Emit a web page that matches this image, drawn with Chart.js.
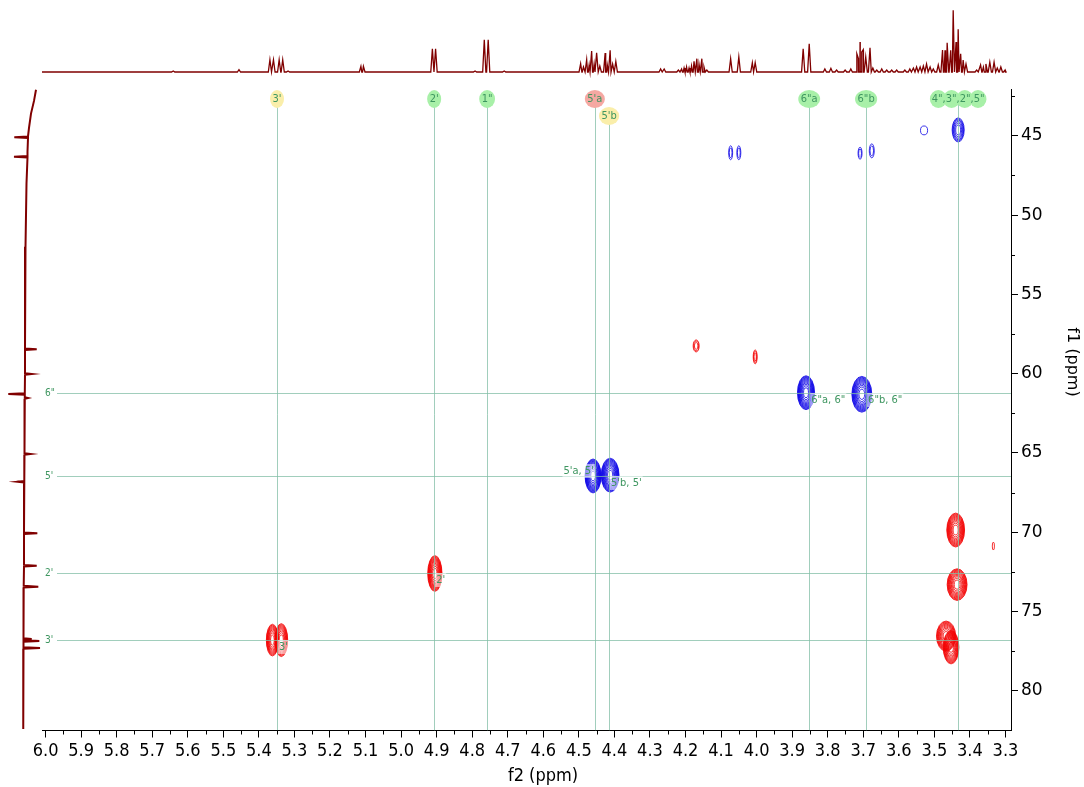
<!DOCTYPE html>
<html>
<head>
<meta charset="utf-8">
<script src="https://cdn.jsdelivr.net/npm/chart.js@4.4.1/dist/chart.umd.min.js"></script>
<style>
  body { margin: 0; background: #fff; }
  #wrap { position: relative; width: 1084px; height: 787px; }
  #wrap canvas { position: absolute; left: 0; top: 0; }
</style>
</head>
<body>
<div id="wrap">
  <canvas id="hsqc" width="1084" height="787"></canvas>
  <canvas id="proton" width="1084" height="90"></canvas>
  <canvas id="carbon" width="44" height="787"></canvas>
</div>
<script>
// axis ranges (ppm)
const F2_MIN = 3.2844, F2_MAX = 6.0101;
const F1_MIN = 42.1, F1_MAX = 82.5;

// HSQC cross peaks: f2 (1H), f1 (13C), half widths in ppm, phase (+1 CH / -1 CH2), contour levels
const peakF2    = [3.433, 3.529, 4.073, 4.050, 3.709, 3.676, 3.861, 3.704, 4.460, 4.412,
                   5.362, 5.337, 4.905, 3.440, 3.436, 3.467, 3.453, 3.334, 4.170, 4.004];
const peakF1    = [44.63, 44.66, 46.07, 46.07, 46.10, 45.95, 61.20, 61.30, 66.45, 66.40,
                   76.80, 76.80, 72.60, 69.86, 73.30, 76.55, 77.25, 70.87, 58.25, 58.94];
const peakHalfF2 = [0.017, 0.010, 0.0056, 0.0056, 0.0056, 0.007, 0.024, 0.028, 0.0225, 0.025,
                    0.017, 0.018, 0.020, 0.025, 0.028, 0.027, 0.022, 0.003, 0.0085, 0.0056];
const peakHalfF1 = [0.76, 0.28, 0.44, 0.44, 0.38, 0.44, 1.07, 1.13, 1.07, 1.07,
                    1.00, 1.04, 1.13, 1.07, 1.00, 0.95, 1.05, 0.25, 0.38, 0.44];
const peakPhase  = [-1, -1, -1, -1, -1, -1, -1, -1, -1, -1,
                     1, 1, 1, 1, 1, 1, 1, 1, 1, 1];
const peakLevels = [6, 1, 2, 2, 2, 2, 12, 12, 12, 12,
                    10, 10, 12, 12, 12, 11, 11, 1, 3, 3];

// 1H projection: line positions (ppm) and heights
const protonPpm = [5.641, 5.456, 5.369, 5.359, 5.343, 5.333, 5.318, 5.113, 5.106, 4.912, 4.903,
  4.792, 4.766, 4.755, 4.710, 4.495, 4.487, 4.478, 4.471, 4.464, 4.457, 4.450, 4.441, 4.426,
  4.420, 4.412, 4.405, 4.396, 4.270, 4.260, 4.220, 4.211, 4.204, 4.197, 4.190, 4.183, 4.176,
  4.168, 4.162, 4.154, 4.148, 4.140, 4.073, 4.050, 4.012, 4.004, 3.869, 3.852, 3.808, 3.791,
  3.775, 3.751, 3.735, 3.718, 3.714, 3.709, 3.704, 3.700, 3.693, 3.681, 3.673, 3.662, 3.648,
  3.634, 3.620, 3.606, 3.583, 3.569, 3.559, 3.550, 3.540, 3.531, 3.522, 3.512, 3.503, 3.489,
  3.477, 3.470, 3.464, 3.454, 3.447, 3.439, 3.433, 3.426, 3.419, 3.411, 3.381, 3.370, 3.362,
  3.355, 3.344, 3.332, 3.323, 3.313, 3.301];
const protonHeight = [1, 2.3, 12.3, 12.3, 12.3, 12.3, 1, 5.7, 5.7, 23.3, 23.3,
  1, 32.3, 32.3, 1, 8.3, 5, 12.3, 7, 21, 8, 19.3, 6, 19,
  7, 21.7, 8, 10.7, 3, 3, 2, 3, 4, 5, 4, 6, 10.7,
  13.3, 8, 13.3, 5, 2, 13.3, 15, 9.3, 9.3, 23.3, 28.3, 3, 3.7,
  2, 2, 3, 18.3, 14, 30, 20, 22.3, 15, 24.3, 4, 2, 3,
  2, 2, 2, 2, 3, 4, 5, 5, 6, 8, 5, 3, 7,
  22, 21.7, 29.3, 21.7, 61.7, 30, 42.7, 18.3, 12, 8, 2, 7, 5,
  8, 10, 10, 4, 5, 2];

// 13C projection: drifting baseline [f1, intensity] and lines [f1, local base, tip]
const carbonBaseline = [[42.1, 12], [42.8, 10], [43.6, 7], [44.5, 5], [46, 3.5], [48, 2.5],
  [52, 1.5], [58, 1], [65, 0.5], [72, 0], [78, -0.5], [82.4, -1]];
const carbonLines = [[45.09, 4, -9.7], [46.32, 3.5, -10], [58.46, 1, 12.7], [60.02, 1, 8],
  [61.28, 0.8, -15.7], [61.53, 0.8, 4], [65.06, 0.5, 6.7], [66.81, 0.3, -6.7], [70.06, 0, 13.3],
  [72.11, 0, 12.7], [73.43, -0.3, 14.3], [76.73, -0.5, 7.7], [76.85, -0.5, 15.3], [77.30, -0.5, 16]];

// assignments
const protonLabels = ["3'", "2'", '1"', "5'a", "5'b", '6"a', '6"b', '4",3",2",5"'];
const protonShifts = [5.349, 4.907, 4.758, 4.455, 4.415, 3.852, 3.692, 3.433];
const carbonLabels = ['6"', "5'", "2'", "3'"];
const carbonShifts = [61.22, 66.45, 72.57, 76.79];
const crossLabels = ["5'a, 5'", "5'b, 5'", '6"a, 6"', '6"b, 6"', "2'", "3'"];
const crossF2 = [4.455, 4.415, 3.852, 3.692, 4.907, 5.349];
const crossF1 = [66.45, 66.45, 61.22, 61.22, 72.57, 76.79];

const NARROW = "'DejaVu Sans Condensed', 'Liberation Sans Narrow', 'DejaVu Sans', sans-serif";
const GREEN_TEXT = 'rgb(62,150,96)';
const LINE_COLOR = 'rgba(130,190,165,0.75)';
const bubbleFill = {
  "3'": 'rgb(250,238,170)', "5'b": 'rgb(250,238,170)', "5'a": 'rgb(245,168,162)'
};

const contourPlugin = {
  id: 'contours',
  afterDatasetsDraw(chart) {
    const { ctx, chartArea: a, scales: { x, y } } = chart;
    ctx.save();
    ctx.beginPath();
    ctx.rect(a.left, a.top, a.right - a.left, a.bottom - a.top);
    ctx.clip();
    ctx.lineWidth = 0.8;
    peakF2.forEach((f2, i) => {
      const cx = x.getPixelForValue(f2);
      const cy = y.getPixelForValue(peakF1[i]);
      const rx = Math.abs(x.getPixelForValue(f2 + peakHalfF2[i]) - cx);
      const ry = Math.abs(y.getPixelForValue(peakF1[i] + peakHalfF1[i]) - cy);
      const n = peakLevels[i];
      ctx.strokeStyle = peakPhase[i] > 0 ? '#f20000' : '#0a00e6';
      for (let k = 0; k < n; k++) {
        const s = Math.sqrt(1 - k / n);
        ctx.beginPath();
        ctx.ellipse(cx, cy, rx * s, ry * s, 0, 0, Math.PI * 2);
        ctx.stroke();
      }
    });

    // assignment lines
    ctx.strokeStyle = LINE_COLOR;
    ctx.lineWidth = 1;
    protonShifts.forEach((p, i) => {
      const px = Math.round(x.getPixelForValue(p)) + 0.5;
      const top = protonLabels[i] === "5'b" ? 116 : 99;
      ctx.beginPath();
      ctx.moveTo(px, top);
      ctx.lineTo(px, a.bottom);
      ctx.stroke();
    });
    ctx.font = '10px ' + NARROW;
    ctx.textBaseline = 'middle';
    carbonShifts.forEach((c, i) => {
      const py = Math.round(y.getPixelForValue(c)) + 0.5;
      ctx.strokeStyle = LINE_COLOR;
      ctx.beginPath();
      ctx.moveTo(a.left + 15, py);
      ctx.lineTo(a.right, py);
      ctx.stroke();
      ctx.fillStyle = GREEN_TEXT;
      ctx.textAlign = 'left';
      ctx.fillText(carbonLabels[i], a.left + 3, py);
    });

    // cross peak labels with a pale box behind
    ctx.font = '11px ' + NARROW;
    crossLabels.forEach((t, i) => {
      const px = x.getPixelForValue(crossF2[i]);
      const py = y.getPixelForValue(crossF1[i]);
      const w = ctx.measureText(t).width;
      const left = i === 0 ? px - w - 1 : px + 2;
      const cy = i === 0 ? py - 5 : py + 7;
      ctx.fillStyle = 'rgba(255,255,255,0.55)';
      ctx.fillRect(left - 1, cy - 7, w + 2, 14);
      ctx.fillStyle = GREEN_TEXT;
      ctx.textAlign = 'left';
      ctx.fillText(t, left, cy);
    });
    ctx.restore();

    // bubbles on top of the proton lines
    ctx.save();
    ctx.font = '11px ' + NARROW;
    ctx.textAlign = 'center';
    ctx.textBaseline = 'middle';
    protonLabels.forEach((t, i) => {
      const px = x.getPixelForValue(protonShifts[i]);
      const cy = t === "5'b" ? 116 : 99;
      const parts = t.split(',');
      const tw = ctx.measureText(t).width;
      ctx.fillStyle = bubbleFill[t] || 'rgb(168,240,168)';
      if (parts.length > 1) {
        const step = tw / parts.length;
        parts.forEach((_, k) => {
          ctx.beginPath();
          ctx.ellipse(px - tw / 2 + step * (k + 0.5), cy, 8.5, 9, 0, 0, Math.PI * 2);
          ctx.fill();
        });
      } else {
        ctx.beginPath();
        ctx.ellipse(px, cy, Math.max(tw / 2 + 2.5, 6.5), 9, 0, 0, Math.PI * 2);
        ctx.fill();
      }
      ctx.fillStyle = GREEN_TEXT;
      ctx.fillText(t, px, cy + 0.5);
    });
    ctx.restore();
  },
  afterDraw(chart) {
    const { ctx, chartArea: a, scales: { x, y } } = chart;
    ctx.save();
    ctx.strokeStyle = '#000';
    ctx.lineWidth = 1;
    // minor ticks
    for (let v = 3.35; v < 6.0; v += 0.1) {
      const px = Math.round(x.getPixelForValue(v)) + 0.5;
      ctx.beginPath();
      ctx.moveTo(px, a.bottom);
      ctx.lineTo(px, a.bottom + 4);
      ctx.stroke();
    }
    for (let v = 42.5; v < F1_MAX; v += 5) {
      const py = Math.round(y.getPixelForValue(v)) + 0.5;
      ctx.beginPath();
      ctx.moveTo(a.right, py);
      ctx.lineTo(a.right + 4, py);
      ctx.stroke();
    }
    // axis titles
    ctx.fillStyle = '#000';
    ctx.textAlign = 'center';
    ctx.textBaseline = 'middle';
    ctx.font = '18px ' + NARROW;
    ctx.fillText('f2 (ppm)', 543, 776);
    ctx.font = "16px 'DejaVu Sans', sans-serif";
    ctx.translate(1072, 362);
    ctx.rotate(Math.PI / 2);
    ctx.fillText('f1 (ppm)', 0, 0);
    ctx.restore();
  }
};

new Chart(document.getElementById('hsqc'), {
  type: 'scatter',
  data: {
    datasets: [{
      data: peakF2.map((p, i) => ({ x: p, y: peakF1[i] })),
      pointRadius: 0
    }]
  },
  options: {
    responsive: false,
    animation: false,
    layout: { padding: { left: 42, top: 89.8, right: 0, bottom: 0 } },
    plugins: { legend: { display: false }, tooltip: { enabled: false } },
    scales: {
      x: {
        type: 'linear', position: 'bottom', reverse: true, min: F2_MIN, max: F2_MAX,
        afterFit: s => { s.height = 56.5; },
        grid: { drawOnChartArea: false, tickLength: 7, color: '#000' },
        border: { color: '#000' },
        ticks: {
          stepSize: 0.1, includeBounds: false, autoSkip: false, maxRotation: 0, minRotation: 0,
          padding: 3, color: '#000', font: { family: NARROW, size: 18 },
          callback: v => v.toFixed(1)
        }
      },
      y: {
        type: 'linear', position: 'right', reverse: true, min: F1_MIN, max: F1_MAX,
        afterFit: s => { s.width = 73; },
        grid: { drawOnChartArea: false, tickLength: 7, color: '#000' },
        border: { color: '#000' },
        ticks: {
          stepSize: 5, includeBounds: false, padding: 3, color: '#000',
          font: { family: "'DejaVu Sans', sans-serif", size: 17 }
        }
      }
    }
  },
  plugins: [contourPlugin]
});

// 1H trace along the top
const protonTrace = [{ x: F2_MAX, y: 0 }, { x: 3.30, y: 0 }];
protonPpm.forEach((p, i) => {
  protonTrace.push({ x: p + 0.0045, y: 0 }, { x: p, y: protonHeight[i] }, { x: p - 0.0045, y: 0 });
});
protonTrace.sort((a, b) => b.x - a.x);

new Chart(document.getElementById('proton'), {
  type: 'scatter',
  data: {
    datasets: [{
      data: protonTrace, showLine: true, pointRadius: 0,
      borderColor: '#800000', borderWidth: 1.3, clip: false
    }]
  },
  options: {
    responsive: false,
    animation: false,
    layout: { padding: { left: 42, right: 73, top: 8, bottom: 16 } },
    plugins: { legend: { display: false }, tooltip: { enabled: false } },
    scales: {
      x: { type: 'linear', display: false, reverse: true, min: F2_MIN, max: F2_MAX },
      y: { type: 'linear', display: false, min: -2, max: 64 }
    }
  }
});

// 13C trace down the left side
const carbonTrace = carbonBaseline.map(([f1, v]) => ({ x: v, y: f1 }));
carbonLines.forEach(([f1, base, tip]) => {
  carbonTrace.push({ x: base, y: f1 - 0.05 }, { x: tip, y: f1 }, { x: base, y: f1 + 0.05 });
});
carbonTrace.sort((a, b) => a.y - b.y);

new Chart(document.getElementById('carbon'), {
  type: 'scatter',
  data: {
    datasets: [{
      data: carbonTrace, showLine: true, pointRadius: 0,
      borderColor: '#800000', borderWidth: 2, clip: false
    }]
  },
  options: {
    responsive: false,
    animation: false,
    layout: { padding: { left: 0, right: 0, top: 89.8, bottom: 56.5 } },
    plugins: { legend: { display: false }, tooltip: { enabled: false } },
    scales: {
      x: { type: 'linear', display: false, min: -24, max: 20 },
      y: { type: 'linear', display: false, reverse: true, min: F1_MIN, max: F1_MAX }
    }
  }
});
</script>
</body>
</html>
